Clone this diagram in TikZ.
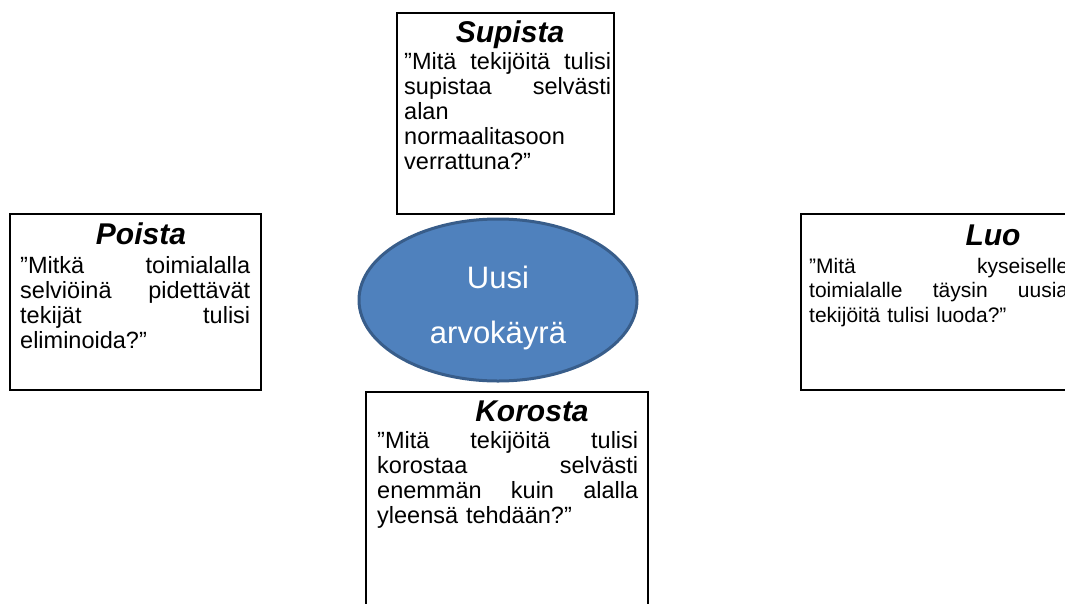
\documentclass[tikz,border=0pt]{standalone}
\usepackage{fontspec}
\setmainfont{Liberation Sans}
\definecolor{ovalfill}{HTML}{4F81BD}
\definecolor{ovaldraw}{HTML}{385D8A}
\newcommand\jl[2]{\leavevmode\hbox to #1pt{#2}}
\newcommand\strA{\rule{0pt}{20pt}}
\tikzset{
  boxline/.style={draw=black, line width=1.7pt},
  bodytext/.style={inner sep=0pt, anchor=north west, align=left, font=\fontsize{23.5}{25}\selectfont},
  smalltext/.style={inner sep=0pt, anchor=north west, align=left, font=\fontsize{21}{24.6}\selectfont},
  headtext/.style={inner sep=0pt, anchor=base, font=\fontsize{30}{36}\selectfont\bfseries\itshape},
  ovaltext/.style={inner sep=0pt, anchor=base, text=white, font=\fontsize{31}{36}\selectfont}
}
\begin{document}
\begin{tikzpicture}[x=1pt,y=-1pt]
\useasboundingbox (0,0) rectangle (1065,603);
\clip (0,0) rectangle (1065,603);
% boxes
\draw[boxline] (397,13) rectangle (614,214);
\draw[boxline] (10,214) rectangle (261,390);
\draw[boxline] (801,214) rectangle (1090,390);
\draw[boxline] (366,392) rectangle (648,620);
% oval
\draw[fill=ovalfill, draw=ovaldraw, line width=3pt] (498,300) ellipse [x radius=139, y radius=81];
\node[ovaltext] (uusi) at (498,288) {Uusi};
\node[ovaltext] (arvo) at (498,343) {arvokäyrä};
% Supista
\node[headtext] (supH) at (510,42) {Supista};
\node[bodytext, text width=208pt] (supT) at (404,49) {\strA\jl{207}{”Mitä\hfill tekijöitä\hfill tulisi}\\\jl{207}{supistaa\hfill selvästi}\\alan\\normaalitasoon\\verrattuna?”};
% Poista
\node[headtext] (poiH) at (141,244) {Poista};
\node[bodytext, text width=231pt] (poiT) at (20,253) {\strA\jl{230}{”Mitkä\hfill toimialalla}\\\jl{230}{selviöinä\hfill pidettävät}\\\jl{230}{tekijät\hfill tulisi}\\eliminoida?”};
% Luo
\node[headtext] (luoH) at (993,245) {Luo};
\node[smalltext, text width=260pt] (luoT) at (809,253) {\strA\jl{259}{”Mitä\hfill kyseiselle}\\\jl{259}{toimialalle\hfill täysin\hfill uusia}\\tekijöitä tulisi luoda?”};
% Korosta
\node[headtext] (korH) at (532,421) {Korosta};
\node[bodytext, text width=262pt] (korT) at (377,428) {\strA\jl{261}{”Mitä\hfill tekijöitä\hfill tulisi}\\\jl{261}{korostaa\hfill selvästi}\\\jl{261}{enemmän\hfill kuin\hfill alalla}\\yleensä tehdään?”};
\end{tikzpicture}
\end{document}
